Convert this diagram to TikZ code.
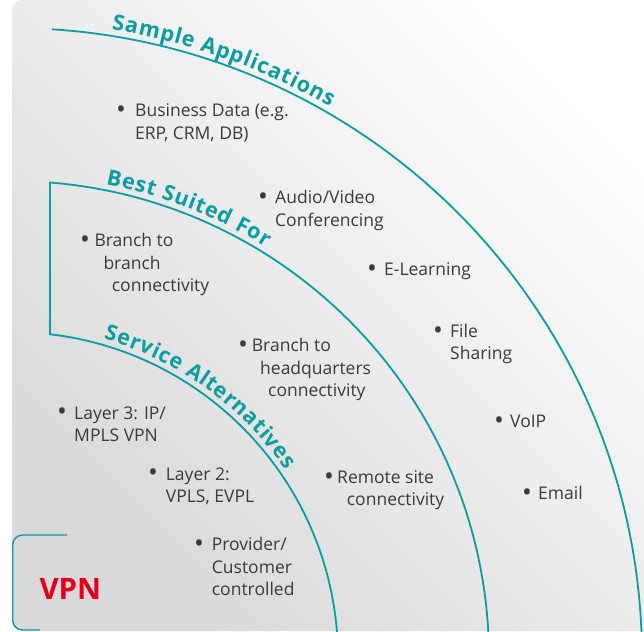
\documentclass[tikz,border=0pt]{standalone}
\usepackage{graphicx}
\usepackage{fontspec}
\setmainfont{Open Sans}
\usetikzlibrary{calc,decorations.text}
\definecolor{VPNTeal}{HTML}{0A9DA3}
\definecolor{VPNText}{HTML}{3A3B3D}
\definecolor{VPNRed}{HTML}{E2001A}
\newcommand{\bodyfont}{\fontsize{17.5}{22.5}\selectfont}
\newcommand{\ringfont}{\fontsize{21.5}{25}\selectfont\bfseries}
\newcommand{\bul}[1][7.2pt]{\llap{\raisebox{-1.8pt}{\scalebox{1.5}{\textbullet}}\hspace{#1}}}
\tikzset{
ringline/.style={draw=VPNTeal, line width=1.8pt},
ringlabel/.style={decorate, decoration={text along path, raise=6pt,
  text align=fit to path, text color=VPNTeal, text={|\ringfont|#1}}},
itemtext/.style={anchor=base west, align=left, inner sep=0pt, text=VPNText,
  font=\bodyfont},
vpnbox/.style={draw=VPNTeal, line width=1.4pt, rounded corners=10pt}
}

\begin{document}
\begin{tikzpicture}[x=1pt,y=1pt]
\useasboundingbox (0,0) rectangle (644,631);
\clip (0,0) rectangle (644,631);
\shade[rounded corners=10pt, bottom color=black!15, middle color=black!2,
  top color=white, shading angle=-45] (12,0) rectangle (670,631);

\coordinate (ctr) at (12,-27);
\draw[ringline] ($(ctr)+(86.36:630)$) arc[start angle=86.36, end angle=0, radius=630];
\draw[ringline] ($(ctr)+(0:326)$) arc[start angle=0, end angle=83.3, radius=326]
  -- ($(ctr)+(85.43:477)$) arc[start angle=85.43, end angle=0, radius=477];
\draw[vpnbox] (67,96) -- (12.7,96) -- (12.7,1) -- (40,1);

\path[ringlabel=Sample Applications] ($(ctr)+(81:630)$) arc[start angle=81, end angle=60, radius=630];
\path[ringlabel=Best Suited For] ($(ctr)+(78.8:477)$) arc[start angle=78.8, end angle=58.3, radius=477];
\path[ringlabel=Service Alternatives] ($(ctr)+(74:326)$) arc[start angle=74, end angle=34.5, radius=326];

\node[itemtext] (bizdata) at (135,491.7) {\bul[9.2pt]Business Data (e.g.\\ERP, CRM, DB)};
\node[itemtext] (avconf) at (275,404.5) {\bul Audio/Video\\Conferencing};
\node[itemtext] (br2br) at (94.3,339) {\bul[4.5pt]Branch to\\\hspace*{9pt}branch\\\hspace*{17.4pt}connectivity};
\node[itemtext] (elearn) at (384,355) {\bul E-Learning};
\node[itemtext] (fileshare) at (450,271) {\bul File\\Sharing};
\node[itemtext] (br2hq) at (251.7,234.3) {\bul[3.9pt]Branch to\\\hspace*{8.3pt}headquarters\\\hspace*{16.3pt}connectivity};
\node[itemtext] (voip) at (510,203) {\bul[6.2pt]VoIP};
\node[itemtext] (layer3) at (74,189.3) {\bul Layer 3: IP/\\MPLS VPN};
\node[itemtext] (layer2) at (165.7,128.3) {\bul[7.9pt]Layer 2:\\VPLS, EVPL};
\node[itemtext] (remote) at (337,125) {\bul[3.2pt]Remote site\\\hspace*{9.7pt}connectivity};
\node[itemtext] (email) at (538,131) {\bul[6.2pt]Email};
\node[itemtext] (provider) at (211.7,35.3) {\bul[7.9pt]Provider/\\Customer\\controlled};
\node[anchor=base west, inner sep=0pt, text=VPNRed,
  font=\fontsize{29.5}{34}\selectfont\bfseries] (vpn) at (39.3,31.7) {VPN};
\end{tikzpicture}
\end{document}
